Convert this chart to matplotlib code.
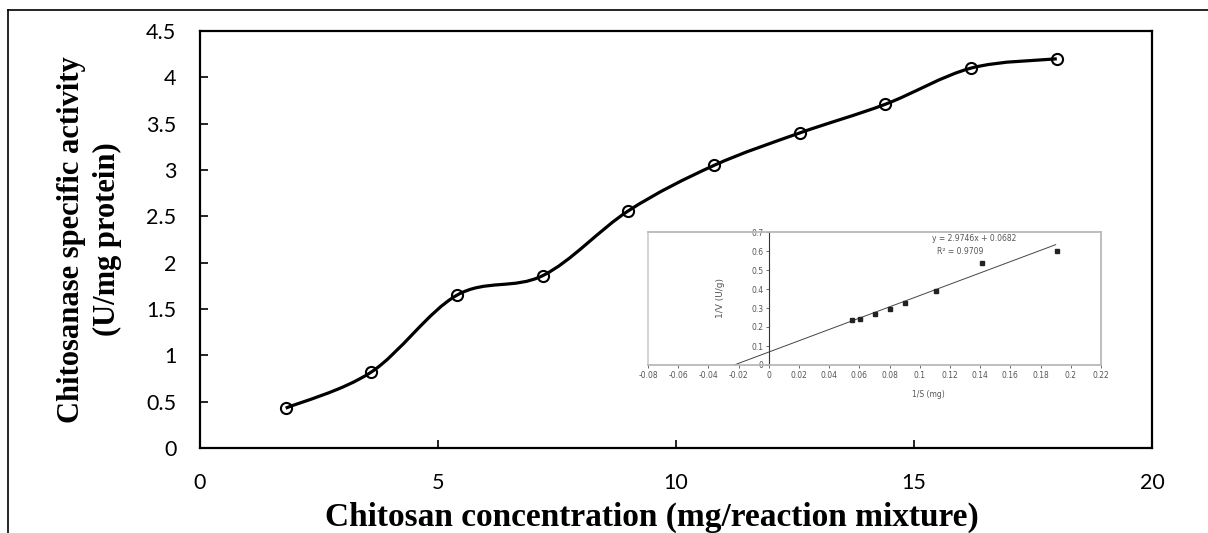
import numpy as np
import matplotlib.pyplot as plt
from matplotlib.path import Path
from matplotlib.patches import PathPatch, Rectangle
from matplotlib.lines import Line2D

# main curve data
conc = [1.8, 3.6, 5.4, 7.2, 9.0, 10.8, 12.6, 14.4, 16.2, 18.0]
activity = [0.43, 0.82, 1.65, 1.86, 2.56, 3.05, 3.40, 3.71, 4.10, 4.20]

# inset (Lineweaver-Burk) data
inv_s = [0.055, 0.0605, 0.0705, 0.080, 0.090, 0.111, 0.141, 0.191]
inv_v = [0.237, 0.242, 0.268, 0.293, 0.328, 0.389, 0.535, 0.602]
slope, intercept = 2.9746, 0.0682
fit_x = [-intercept / slope, 0.19]


def smooth_path(xs, ys):
    # Excel-style smoothed line as cubic bezier segments
    pts = np.column_stack([xs, ys])
    n = len(pts)
    verts = [pts[0]]
    codes = [Path.MOVETO]
    for i in range(n - 1):
        p0 = pts[max(i - 1, 0)]
        p1 = pts[i]
        p2 = pts[i + 1]
        p3 = pts[min(i + 2, n - 1)]
        verts += [p1 + (p2 - p0) / 6, p2 - (p3 - p1) / 6, p2]
        codes += [Path.CURVE4] * 3
    return Path(verts, codes)


fig = plt.figure(figsize=(12.08, 5.33), dpi=100)

# outer frame
fig.add_artist(Line2D([8 / 1208, 8 / 1208], [0, 1 - 10 / 533], transform=fig.transFigure, color='black', lw=1.2))
fig.add_artist(Line2D([8 / 1208, 1], [1 - 10 / 533, 1 - 10 / 533], transform=fig.transFigure, color='black', lw=1.2))

ax = fig.add_axes([200 / 1208, 1 - 448 / 533, 952 / 1208, 417 / 533])
ax.add_patch(PathPatch(smooth_path(conc, activity), fill=False, lw=2.3, color='black', zorder=3))
ax.plot(conc, activity, ls='none', marker='o', ms=8, mfc='none', mec='black', mew=1.5, zorder=4)

ax.set_xlim(0, 20)
ax.set_ylim(0, 4.5)
ax.set_xticks([0, 5, 10, 15, 20])
ax.set_yticks(np.arange(0, 4.51, 0.5))
ax.set_yticklabels(['0', '0.5', '1', '1.5', '2', '2.5', '3', '3.5', '4', '4.5'])
ax.tick_params(direction='in', length=6, width=1.2, labelsize=15.5)
ax.tick_params(axis='x', pad=18)
ax.tick_params(axis='y', pad=17)
for lbl in ax.get_xticklabels() + ax.get_yticklabels():
    lbl.set_family('Lato')
for s in ax.spines.values():
    s.set_linewidth(1.6)

ax.set_xlabel('Chitosan concentration (mg/reaction mixture)', family='Liberation Serif',
              weight='bold', fontsize=24)
ax.xaxis.set_label_coords(0.475, -0.128)
ax.set_ylabel('Chitosanase specific activity\n(U/mg protein)', family='Liberation Serif',
              weight='bold', fontsize=22, linespacing=1.3)
ax.yaxis.set_label_coords(-0.082, 0.5)

# inset
gray = '#555555'
ins = fig.add_axes([648 / 1208, 1 - 365 / 533, 453 / 1208, 133 / 533])
ins.plot(fit_x, [slope * x + intercept for x in fit_x], color='#444444', lw=0.7)
ins.plot(inv_s, inv_v, ls='none', marker='s', ms=3, color='#222222')
ins.set_xlim(-0.08, 0.22)
ins.set_ylim(0, 0.7)
ins.set_xticks(np.arange(-0.08, 0.221, 0.02))
ins.set_xticklabels(['-0.08', '-0.06', '-0.04', '-0.02', '0', '0.02', '0.04', '0.06', '0.08',
                     '0.1', '0.12', '0.14', '0.16', '0.18', '0.2', '0.22'])
ins.set_yticks(np.arange(0, 0.71, 0.1))
ins.set_yticklabels(['0', '0.1', '0.2', '0.3', '0.4', '0.5', '0.6', '0.7'])
ins.spines['left'].set_position(('data', 0))
ins.spines['left'].set_color('#333333')
ins.spines['left'].set_linewidth(0.8)
for k in ['top', 'right', 'bottom']:
    ins.spines[k].set_color('#bbbbbb')
    ins.spines[k].set_linewidth(1.2)
ins.add_patch(Rectangle((0, 0), 1, 1, transform=ins.transAxes, fill=False, ec='#cccccc', lw=1.2, clip_on=False))
ins.tick_params(labelsize=5.5, colors=gray, length=2, width=0.6, pad=2)
ins.text(0.62, -0.22, '1/S (mg)', transform=ins.transAxes, fontsize=5.5, color=gray, ha='center', va='center')
ins.text(0.16, 0.5, '1/V (U/g)', transform=ins.transAxes, fontsize=6.5, color=gray, ha='center', va='center',
         rotation=90)
ins.text(0.72, 0.95, 'y = 2.9746x + 0.0682', transform=ins.transAxes, fontsize=5.5, color=gray,
         ha='center', va='center')
ins.text(0.69, 0.85, 'R² = 0.9709', transform=ins.transAxes, fontsize=5.5, color=gray,
         ha='center', va='center')

fig.savefig('out.png', dpi=100)
